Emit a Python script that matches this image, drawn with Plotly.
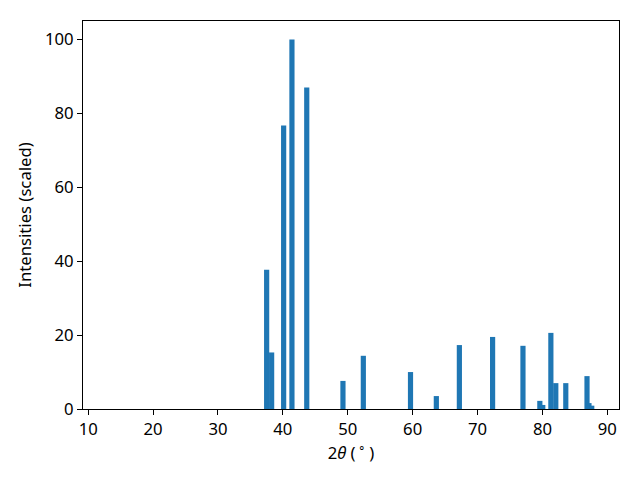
import plotly.graph_objects as go

two_theta = [37.5, 38.27, 40.12, 41.4, 43.68, 49.26, 52.4, 59.67, 63.65, 67.2,
             72.32, 77.0, 79.6, 80.05, 81.3, 82.06, 83.6, 86.87, 87.17, 87.6]
intensity = [37.7, 15.3, 76.7, 100.0, 87.0, 7.6, 14.4, 10.0, 3.5, 17.3,
             19.5, 17.1, 2.2, 1.1, 20.6, 7.0, 7.0, 8.9, 1.6, 0.9]
x_ticks = [10, 20, 30, 40, 50, 60, 70, 80, 90]
y_ticks = [0, 20, 40, 60, 80, 100]

fig = go.Figure()
fig.add_trace(go.Bar(x=two_theta, y=intensity, width=0.8,
                     marker=dict(color="#1f77b4", line=dict(width=0))))

font = dict(family="Noto Sans, Open Sans, sans-serif", size=16.7, color="black")
axis_common = dict(showline=True, mirror=True, linecolor="black", linewidth=1,
                   ticks="outside", ticklen=5, tickwidth=1, tickcolor="black",
                   showgrid=False, zeroline=False, tickfont=font)

fig.update_layout(
    width=640, height=480,
    margin=dict(l=83, r=21, t=21, b=71),
    plot_bgcolor="white", paper_bgcolor="white",
    showlegend=False,
    font=font,
    xaxis=dict(range=[9.2, 91.8], tickvals=x_ticks,
               title=dict(text="2<i>θ</i>\u00a0(\u2009<sup>∘</sup>\u2009)", font=font, standoff=5),
               **axis_common),
    yaxis=dict(range=[0, 105], tickvals=y_ticks,
               title=dict(text="Intensities (scaled)", font=font, standoff=9),
               **axis_common),
)

fig.write_html("out.html", config={"displayModeBar": False},
               post_script="document.body.style.margin='0';document.body.style.overflow='hidden';")
